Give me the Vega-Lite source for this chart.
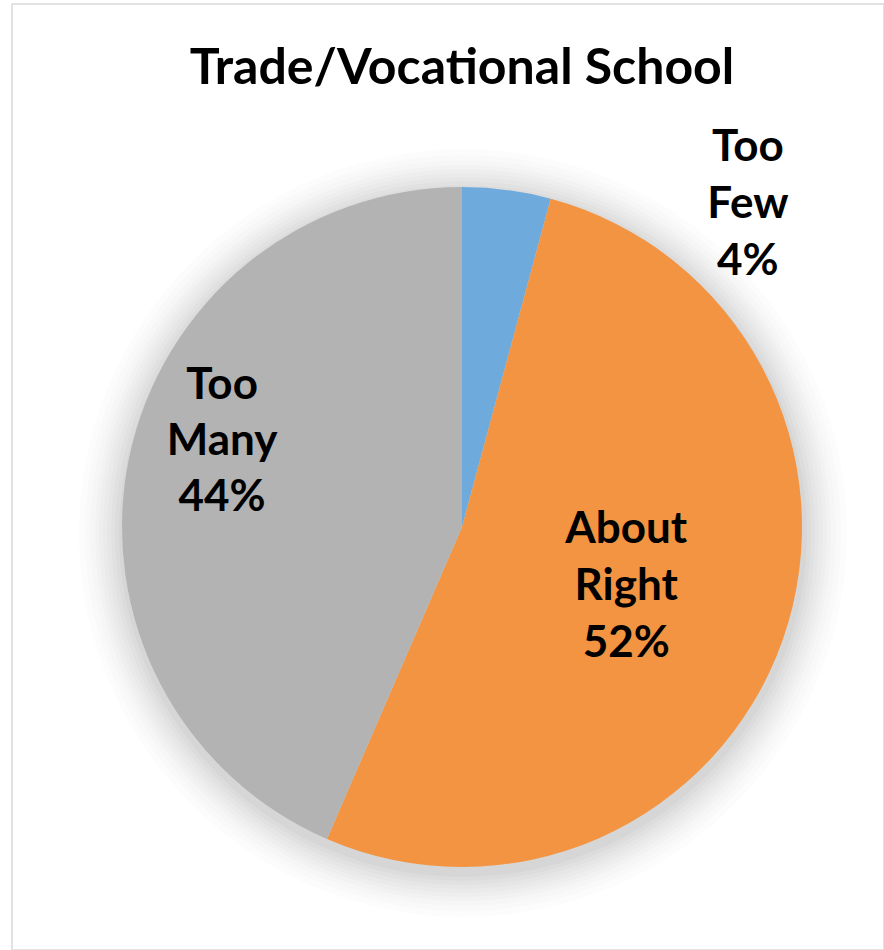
{
  "$schema": "https://vega.github.io/schema/vega-lite/v6.json",
  "width": 872,
  "height": 946,
  "autosize": {"type": "none"},
  "padding": {"left": 12, "top": 4, "right": 0, "bottom": 0},
  "background": "white",
  "view": {"stroke": "#D9D9D9", "strokeWidth": 1.5},
  "title": {
    "text": "Trade/Vocational School",
    "font": "Lato",
    "fontSize": 50,
    "fontWeight": "bold",
    "color": "#000000",
    "anchor": "middle",
    "baseline": "alphabetic",
    "dx": 14,
    "dy": 134
  },
  "data": {
    "values": [
      {"category": "Too Few", "share": 4.2, "label": "Too\nFew\n4%", "order": 1},
      {"category": "About Right", "share": 52.3, "label": "About\nRight\n52%", "order": 2},
      {"category": "Too Many", "share": 43.5, "label": "Too\nMany\n44%", "order": 3}
    ]
  },
  "layer": [
    {"data": {"values": [{}]}, "mark": {"type": "arc", "theta": 0, "theta2": 6.2832, "radius": 384, "x": 451, "y": 529, "fill": "#000000", "opacity": 0.012}, "encoding": {}},
    {"data": {"values": [{}]}, "mark": {"type": "arc", "theta": 0, "theta2": 6.2832, "radius": 378, "x": 451, "y": 529, "fill": "#000000", "opacity": 0.012}, "encoding": {}},
    {"data": {"values": [{}]}, "mark": {"type": "arc", "theta": 0, "theta2": 6.2832, "radius": 373, "x": 451, "y": 529, "fill": "#000000", "opacity": 0.013}, "encoding": {}},
    {"data": {"values": [{}]}, "mark": {"type": "arc", "theta": 0, "theta2": 6.2832, "radius": 368, "x": 451, "y": 529, "fill": "#000000", "opacity": 0.014}, "encoding": {}},
    {"data": {"values": [{}]}, "mark": {"type": "arc", "theta": 0, "theta2": 6.2832, "radius": 364, "x": 451, "y": 529, "fill": "#000000", "opacity": 0.015}, "encoding": {}},
    {"data": {"values": [{}]}, "mark": {"type": "arc", "theta": 0, "theta2": 6.2832, "radius": 360, "x": 451, "y": 529, "fill": "#000000", "opacity": 0.016}, "encoding": {}},
    {"data": {"values": [{}]}, "mark": {"type": "arc", "theta": 0, "theta2": 6.2832, "radius": 356, "x": 451, "y": 529, "fill": "#000000", "opacity": 0.017}, "encoding": {}},
    {"data": {"values": [{}]}, "mark": {"type": "arc", "theta": 0, "theta2": 6.2832, "radius": 352, "x": 451, "y": 529, "fill": "#000000", "opacity": 0.018}, "encoding": {}},
    {"data": {"values": [{}]}, "mark": {"type": "arc", "theta": 0, "theta2": 6.2832, "radius": 348, "x": 451, "y": 529, "fill": "#000000", "opacity": 0.02}, "encoding": {}},
    {"data": {"values": [{}]}, "mark": {"type": "arc", "theta": 0, "theta2": 6.2832, "radius": 344, "x": 451, "y": 529, "fill": "#000000", "opacity": 0.022}, "encoding": {}},
    {
      "mark": {"type": "arc", "radius": 340, "x": 450, "y": 523},
      "encoding": {
        "theta": {"field": "share", "type": "quantitative", "stack": true},
        "order": {"field": "order", "type": "quantitative"},
        "color": {
          "field": "category",
          "type": "nominal",
          "scale": {"domain": ["Too Few", "About Right", "Too Many"], "range": ["#6EABDC", "#F29441", "#B3B3B3"]},
          "legend": null
        }
      }
    },
    {
      "mark": {"type": "text", "radius": 174, "x": 450, "y": 523, "dy": -54, "font": "Lato", "fontSize": 44, "fontWeight": "bold", "lineBreak": "\n", "lineHeight": 57, "align": "center", "baseline": "middle", "color": "#000000"},
      "encoding": {
        "theta": {"field": "share", "type": "quantitative", "stack": true},
        "order": {"field": "order", "type": "quantitative"},
        "text": {"condition": {"test": "datum.category === 'About Right'", "field": "label"}, "value": ""}
      }
    },
    {
      "mark": {"type": "text", "radius": 245, "x": 450, "y": 523, "dy": -91, "font": "Lato", "fontSize": 44, "fontWeight": "bold", "lineBreak": "\n", "lineHeight": 56, "align": "center", "baseline": "middle", "color": "#000000"},
      "encoding": {
        "theta": {"field": "share", "type": "quantitative", "stack": true},
        "order": {"field": "order", "type": "quantitative"},
        "text": {"condition": {"test": "datum.category === 'Too Many'", "field": "label"}, "value": ""}
      }
    },
    {
      "mark": {"type": "text", "radius": 326, "x": 450, "y": 523, "dx": 243, "dy": -56, "font": "Lato", "fontSize": 44, "fontWeight": "bold", "lineBreak": "\n", "lineHeight": 57, "align": "center", "baseline": "middle", "color": "#000000"},
      "encoding": {
        "theta": {"field": "share", "type": "quantitative", "stack": true},
        "order": {"field": "order", "type": "quantitative"},
        "text": {"condition": {"test": "datum.category === 'Too Few'", "field": "label"}, "value": ""}
      }
    }
  ]
}
